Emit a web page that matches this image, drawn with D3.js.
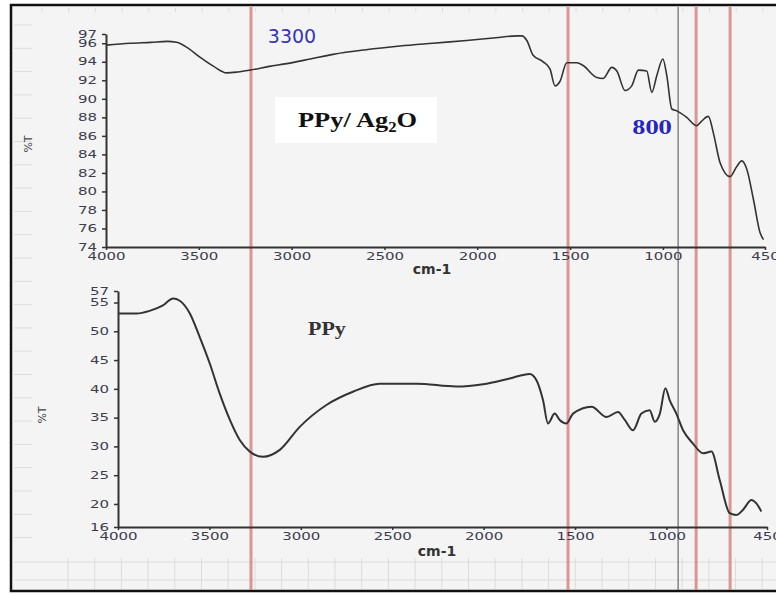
<!DOCTYPE html>
<html>
<head>
<meta charset="utf-8">
<script src="https://cdn.jsdelivr.net/npm/d3@7"></script>
<style>
body { margin: 0; background: #fff; }
svg { display: block; }
</style>
</head>
<body>
<div id="canvas"></div>
<script>
// PPy/Ag2O spectrum (top), wavenumber cm-1 and %T
var topWn = [4000,3870,3760,3670,3620,3560,3494,3420,3350,3290,
             3224,3120,3026,2900,2777,2600,2416,2240,2057,1900,
             1787,1760,1733,1699,1645,1608,1581,1554,1518,1464,
             1430,1356,1322,1275,1248,1204,1168,1132,1087,1060,
             1033,1000,979,952,925,872,818,791,755,728,
             692,638,602,575,548,512,476,458];
var topT = [95.8,96.0,96.1,96.2,96.1,95.5,94.5,93.5,92.8,92.9,
            93.1,93.5,93.8,94.3,94.8,95.3,95.7,96.0,96.3,96.6,
            96.8,96.8,96.3,94.7,94.0,93.2,91.4,91.9,93.9,93.9,
            93.6,92.3,92.2,93.4,93.0,90.9,91.4,93.1,93.0,90.7,
            92.5,94.3,92.5,88.9,88.7,88.0,87.1,87.6,88.1,86.3,
            83.1,81.6,82.7,83.3,82.4,79.1,75.5,74.8];

// PPy spectrum (bottom)
var botWn = [4000,3899,3827,3754,3699,3662,3607,3553,3498,3444,
             3388,3334,3279,3207,3115,3006,2860,2715,2569,2368,
             2149,2003,1857,1748,1711,1675,1648,1611,1584,1547,
             1511,1410,1328,1265,1228,1183,1137,1092,1064,1036,
             1006,982,946,909,855,800,754,709,654,617,
             581,535,508,481];
var botT = [53.1,53.1,53.55,54.5,55.7,55.3,53.1,49.0,44.4,39.2,
            34.6,31.1,29.1,28.2,29.4,33.4,37.2,39.5,40.9,40.9,
            40.4,40.8,41.8,42.6,41.5,38.0,34.0,35.7,34.6,34.0,
            35.7,36.9,35.1,36.0,34.6,32.8,35.7,36.3,34.3,35.7,
            40.1,38.0,35.7,32.8,30.5,28.8,29.1,24.2,18.4,18.1,
            19.0,20.7,20.1,18.7];

var xTicks = [4000,3500,3000,2500,2000,1500,1000,450];
var topYTicks = [97,96,94,92,90,88,86,84,82,80,78,76,74];
var botYTicks = [57,55,50,45,40,35,30,25,20,16];

// marker lines, in top-panel wavenumbers
var redLines = [3219,1511,821,638];
var grayLines = [918];

var W = 776, H = 594;
var svg = d3.select('#canvas').append('svg')
  .attr('width', W).attr('height', H);

// outer frame
svg.append('rect')
  .attr('x', 11).attr('y', 5).attr('width', W + 10).attr('height', 586)
  .attr('fill', '#f4f4f4').attr('stroke', '#111').attr('stroke-width', 2.5);

// faint background grid from the original screenshot
var faint = svg.append('g').attr('stroke', '#dcdcdc').attr('stroke-width', 1);
d3.range(42, W, 26.7).forEach(function (x) {
  faint.append('line').attr('x1', x).attr('x2', x).attr('y1', 8).attr('y2', 12);
});
d3.range(68, W, 26.7).forEach(function (x) {
  faint.append('line').attr('x1', x).attr('x2', x).attr('y1', 558).attr('y2', 589);
});
[562, 580].forEach(function (y) {
  faint.append('line').attr('x1', 14).attr('x2', W).attr('y1', y).attr('y2', y);
});
d3.range(25, 560, 23.3).forEach(function (y) {
  faint.append('line').attr('x1', 14).attr('x2', 32).attr('y1', y).attr('y2', y);
});

// scales
var xTop = d3.scaleLinear().domain([4000, 450]).range([106, 765]);
var yTop = d3.scaleLinear().domain([74, 97]).range([247, 34]);
var xBot = d3.scaleLinear().domain([4000, 450]).range([118, 767]);
var yBot = d3.scaleLinear().domain([16, 57]).range([527, 291]);

// vertical marker lines across the whole figure
svg.selectAll('line.red').data(redLines).enter().append('line')
  .attr('class', 'red')
  .attr('x1', d => xTop(d)).attr('x2', d => xTop(d))
  .attr('y1', 7).attr('y2', 590)
  .attr('stroke', 'rgb(214,125,125)').attr('stroke-opacity', 0.8).attr('stroke-width', 3);
svg.selectAll('line.gray').data(grayLines).enter().append('line')
  .attr('class', 'gray')
  .attr('x1', d => xTop(d)).attr('x2', d => xTop(d))
  .attr('y1', 7).attr('y2', 590)
  .attr('stroke', '#6a6a6a').attr('stroke-width', 1.2);

function drawPanel(p) {
  var g = svg.append('g');

  var xa = g.append('g')
    .attr('transform', 'translate(0,' + p.y.range()[0] + ')')
    .call(d3.axisBottom(p.x).tickValues(xTicks).tickFormat(d3.format('d'))
      .tickSize(3).tickPadding(3).tickSizeOuter(0));
  var ya = g.append('g')
    .attr('transform', 'translate(' + p.x.range()[0] + ',0)')
    .call(d3.axisLeft(p.y).tickValues(p.yTicks).tickFormat(d3.format('d'))
      .tickSize(4).tickPadding(2).tickSizeOuter(0));

  [xa, ya].forEach(function (a) {
    a.select('.domain').attr('stroke', '#333').attr('stroke-width', 2);
    a.selectAll('.tick line').attr('stroke', '#333').attr('stroke-width', 1.5);
    a.selectAll('.tick text')
      .attr('fill', '#3d3d4d')
      .style('font-family', 'DejaVu Sans')
      .style('font-size', '10px')
      .attr('transform', 'scale(1.5,1)');
  });

  // axis titles
  g.append('text')
    .attr('x', p.xTitle[0]).attr('y', p.xTitle[1])
    .attr('text-anchor', 'middle')
    .style('font-family', 'DejaVu Sans').style('font-weight', 'bold').style('font-size', '14px')
    .attr('fill', '#333')
    .text('cm-1');
  g.append('text')
    .attr('transform', 'translate(' + p.yTitle[0] + ',' + p.yTitle[1] + ') rotate(-90)')
    .attr('text-anchor', 'middle')
    .style('font-family', 'DejaVu Sans').style('font-size', '11px')
    .attr('fill', '#444')
    .text('%T');

  var line = d3.line()
    .x(d => p.x(d[0]))
    .y(d => p.y(d[1]))
    .curve(d3.curveMonotoneX);
  g.append('path')
    .attr('d', line(d3.zip(p.wn, p.t)))
    .attr('fill', 'none').attr('stroke', '#333').attr('stroke-width', p.sw);
}

drawPanel({x: xTop, y: yTop, yTicks: topYTicks, wn: topWn, t: topT, sw: 1.6,
           xTitle: [432, 274], yTitle: [32, 144]});
drawPanel({x: xBot, y: yBot, yTicks: botYTicks, wn: botWn, t: botT, sw: 2,
           xTitle: [437, 556], yTitle: [46, 415]});

// annotations
svg.append('text')
  .attr('x', 292).attr('y', 43).attr('text-anchor', 'middle')
  .style('font-family', 'DejaVu Sans').style('font-size', '19px')
  .attr('fill', '#3535b5')
  .text('3300');

svg.append('text')
  .attr('x', 652).attr('y', 134).attr('text-anchor', 'middle')
  .style('font-family', 'DejaVu Serif').style('font-weight', 'bold').style('font-size', '19px')
  .attr('fill', '#2525c0')
  .text('800');

svg.append('rect')
  .attr('x', 275).attr('y', 97).attr('width', 162).attr('height', 46)
  .attr('fill', '#fff');
var lab = svg.append('g').attr('transform', 'translate(298,127)')
  .append('text')
  .attr('transform', 'scale(1.2,1)')
  .style('font-family', 'Liberation Serif').style('font-weight', 'bold').style('font-size', '22px')
  .attr('fill', '#111');
lab.append('tspan').text('PPy/ Ag');
lab.append('tspan').attr('dy', 5).style('font-size', '14px').text('2');
lab.append('tspan').attr('dy', -5).text('O');

svg.append('g').attr('transform', 'translate(308,335)')
  .append('text')
  .attr('transform', 'scale(1.22,1)')
  .style('font-family', 'Liberation Serif').style('font-weight', 'bold').style('font-size', '18px')
  .attr('fill', '#333')
  .text('PPy');
</script>
</body>
</html>
